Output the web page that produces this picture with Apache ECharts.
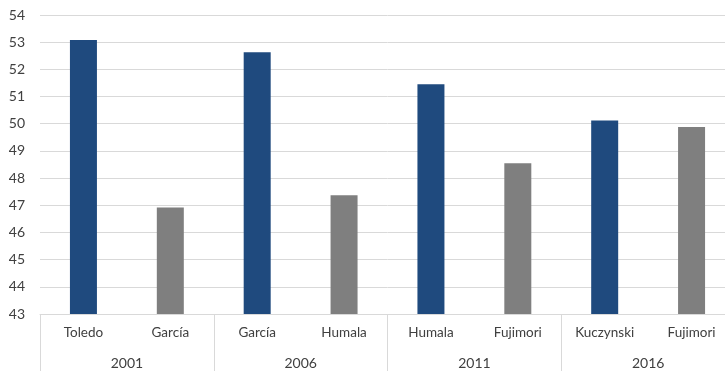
<!DOCTYPE html>
<html>
<head>
<meta charset="utf-8">
<script src="https://cdn.jsdelivr.net/npm/echarts@6/dist/echarts.min.js"></script>
<style>html,body{margin:0;padding:0;background:#fff;overflow:hidden;width:725px;height:371px}#c{width:735px;height:371px}</style>
</head>
<body>
<div id="c"></div>
<script>
const candidates = ['Toledo', 'García', 'García', 'Humala', 'Humala', 'Fujimori', 'Kuczynski', 'Fujimori'];
const years = ['2001', '2006', '2011', '2016'];
const values = [53.08, 46.92, 52.63, 47.37, 51.45, 48.55, 50.12, 49.88];
const winner = [true, false, true, false, true, false, true, false];
const yTicks = { min: 43, max: 54, interval: 1 };

const chart = echarts.init(document.getElementById('c'), null, { renderer: 'canvas' });
const font = 'Lato, "Liberation Sans", sans-serif';
chart.setOption({
  animation: false,
  grid: { left: 40, right: 0, top: 15, bottom: 57, containLabel: false },
  xAxis: [
    {
      type: 'category',
      data: candidates,
      position: 'bottom',
      axisLine: { show: true, lineStyle: { color: '#d9d9d9', width: 1 } },
      axisTick: { show: false },
      axisLabel: { interval: 0, margin: 12, color: '#404040', fontFamily: font, fontSize: 13.5 }
    },
    {
      type: 'category',
      data: years,
      position: 'bottom',
      boundaryGap: true,
      axisLine: { show: false },
      axisTick: { show: true, interval: 0, length: 57, lineStyle: { color: '#d9d9d9', width: 1 } },
      axisLabel: { interval: 0, margin: 42, color: '#404040', fontFamily: font, fontSize: 14 }
    }
  ],
  yAxis: {
    type: 'value',
    min: yTicks.min, max: yTicks.max, interval: yTicks.interval,
    axisLine: { show: false },
    axisTick: { show: false },
    axisLabel: { margin: 15, color: '#404040', fontFamily: font, fontSize: 14 },
    splitLine: { lineStyle: { color: '#d9d9d9', width: 1 } }
  },
  series: [{
    type: 'bar',
    xAxisIndex: 0,
    barWidth: 27,
    data: values.map((v, i) => ({ value: v, itemStyle: { color: winner[i] ? '#1f4a7e' : '#7f7f7f' } }))
  }]
});
</script>
</body>
</html>
